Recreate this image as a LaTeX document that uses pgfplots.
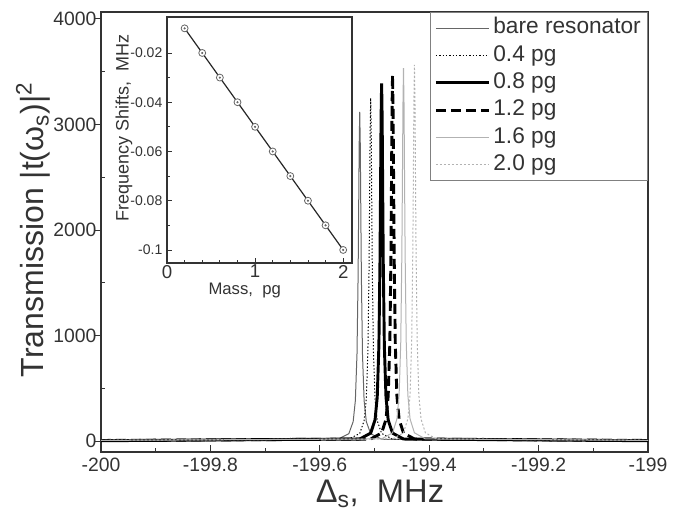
\documentclass[border=0pt]{standalone}
\usepackage{fontspec}
\setmainfont{Liberation Sans}
\usepackage{pgfplots}
\pgfplotsset{compat=1.18}
\definecolor{axgray}{gray}{0.2}
\definecolor{bare}{gray}{0.4}
\definecolor{light}{gray}{0.7}

\begin{document}
\begin{tikzpicture}
\useasboundingbox (-75.75pt,-46.5pt) rectangle (429pt,339pt);
\begin{axis}[
  name=main,
  at={(0pt,0pt)}, anchor=south west,
  scale only axis,
  width=410.25pt, height=330pt,
  xmin=-200, xmax=-199,
  ymin=-104, ymax=4066,
  xtick={-200,-199.8,-199.6,-199.4,-199.2,-199},
  xticklabels={-200,-199.8,-199.6,-199.4,-199.2,-199},
  ytick={0,1000,2000,3000,4000},
  minor x tick num=1,
  minor y tick num=1,
  xtick pos=bottom, ytick pos=left,
  tick align=inside,
  major tick length=5pt, minor tick length=3pt,
  major y tick style={xshift=-5pt},
  axis line style={axgray, line width=0.9pt},
  every tick/.style={axgray, line width=0.7pt},
  /pgf/number format/assume math mode=true,
  /pgf/number format/set thousands separator={},
  tick label style={font=\fontsize{14.5}{15}\selectfont, color=axgray},
  x tick label style={yshift=-1pt},
  xlabel={Δ\textsubscript{s},\ \ MHz},
  ylabel={Transmission |t(ω\textsubscript{s})|\textsuperscript{2}},
  xlabel style={font=\fontsize{24.5}{26}\selectfont, color=axgray, at={(axis description cs:0.51,-0.096)}, anchor=center},
  ylabel style={font=\fontsize{24}{26}\selectfont, color=axgray, at={(axis description cs:-0.124,0.505)}, anchor=center},
  legend cell align=left,
  legend image code/.code={\draw[#1] (0pt,0pt) -- (40pt,0pt);},
  legend style={at={(1,1)}, anchor=north east, draw=gray, line width=0.8pt,
    font=\fontsize{17}{20}\selectfont, text=axgray,
    nodes={inner ysep=2pt, text height=12pt, text depth=3.5pt},
    row sep=1pt},
]
% bare resonator
\addplot[bare, line width=0.75pt] coordinates {
  (-200,2) (-199.567,17) (-199.547,69) (-199.539,184) (-199.535,384) (-199.532,827)
  (-199.530,1560) (-199.529,2159) (-199.528,2808) (-199.527,3120) (-199.526,2808)
  (-199.525,2159) (-199.524,1560) (-199.522,827) (-199.519,384) (-199.515,184)
  (-199.507,69) (-199.487,17) (-199,2)
};
\addlegendentry{bare resonator}
% 0.4 pg
\addplot[black, line width=0.75pt, dash pattern=on 1pt off 1.5pt] coordinates {
  (-200,4) (-199.547,18) (-199.527,72) (-199.519,192) (-199.515,400) (-199.512,861)
  (-199.510,1625) (-199.509,2249) (-199.508,2925) (-199.507,3250) (-199.506,2925)
  (-199.505,2249) (-199.504,1625) (-199.502,861) (-199.499,400) (-199.495,192)
  (-199.487,72) (-199.467,18) (-199,4)
};
\addlegendentry{0.4 pg}
% 0.8 pg
\addplot[black, line width=2.2pt] coordinates {
  (-200,3) (-199.527,19) (-199.507,75) (-199.499,200) (-199.495,417) (-199.492,898)
  (-199.490,1695) (-199.489,2346) (-199.488,3051) (-199.487,3390) (-199.486,3051)
  (-199.485,2346) (-199.484,1695) (-199.482,898) (-199.479,417) (-199.475,200)
  (-199.467,75) (-199.447,19) (-199,3)
};
\addlegendentry{0.8 pg}
% 1.2 pg
\addplot[black, line width=2.2pt, dash pattern=on 7.5pt off 3.75pt] coordinates {
  (-200,5) (-199.507,19) (-199.487,76) (-199.479,205) (-199.475,427) (-199.472,920)
  (-199.470,1735) (-199.469,2401) (-199.468,3123) (-199.467,3470) (-199.466,3123)
  (-199.465,2401) (-199.464,1735) (-199.462,920) (-199.459,427) (-199.455,205)
  (-199.447,76) (-199.427,19) (-199,5)
};
\addlegendentry{1.2 pg}
% 1.6 pg
\addplot[light, line width=0.75pt] coordinates {
  (-200,6) (-199.487,20) (-199.467,78) (-199.459,209) (-199.455,435) (-199.452,937)
  (-199.450,1768) (-199.449,2446) (-199.448,3182) (-199.447,3535) (-199.446,3182)
  (-199.445,2446) (-199.444,1768) (-199.442,937) (-199.439,435) (-199.435,209)
  (-199.427,78) (-199.407,20) (-199,6)
};
\addlegendentry{1.6 pg}
% 2.0 pg
\addplot[light, line width=0.75pt, dash pattern=on 1.5pt off 1.5pt] coordinates {
  (-200,7) (-199.467,20) (-199.447,78) (-199.439,210) (-199.435,438) (-199.432,945)
  (-199.430,1783) (-199.429,2467) (-199.428,3209) (-199.427,3565) (-199.426,3209)
  (-199.425,2467) (-199.424,1783) (-199.422,945) (-199.419,438) (-199.415,210)
  (-199.407,78) (-199.387,20) (-199,7)
};
\addlegendentry{2.0 pg}
\end{axis}

% inset: frequency shift vs mass
\begin{axis}[
  at={(49.5pt,141.75pt)}, anchor=south west,
  scale only axis,
  width=138.75pt, height=184.5pt,
  axis background/.style={fill=white},
  xmin=0, xmax=2.1,
  ymin=-0.1053, ymax=-0.0054,
  xtick={0,1,2},
  ytick={-0.1,-0.08,-0.06,-0.04,-0.02},
  yticklabels={-0.1,-0.08,-0.06,-0.04,-0.02},
  minor x tick num=4,
  minor y tick num=1,
  xtick pos=bottom, ytick pos=left,
  tick align=inside,
  major tick length=4pt, minor tick length=2.5pt,
  axis line style={axgray, line width=0.9pt},
  every tick/.style={axgray, line width=0.6pt},
  /pgf/number format/assume math mode=true,
  x tick label style={font=\fontsize{14}{14}\selectfont, color=axgray, yshift=2pt},
  y tick label style={font=\fontsize{10.5}{11}\selectfont, color=axgray},
  xlabel={Mass,\ \ pg},
  ylabel={Frequency Shifts,\ \ MHz},
  xlabel style={font=\fontsize{12.5}{13}\selectfont, color=axgray, at={(axis description cs:0.42,-0.112)}, anchor=center},
  ylabel style={font=\fontsize{13.5}{14}\selectfont, color=axgray, at={(axis description cs:-0.232,0.55)}, anchor=center},
]
\addplot[black!85, line width=0.9pt, mark=*, mark size=2.6pt,
  mark options={fill=white, draw=gray!80!black, line width=0.6pt}] coordinates {
  (0.2,-0.01) (0.4,-0.02) (0.6,-0.03) (0.8,-0.04) (1.0,-0.05)
  (1.2,-0.06) (1.4,-0.07) (1.6,-0.08) (1.8,-0.09) (2.0,-0.1)
};
\addplot[only marks, mark=*, mark size=0.6pt, gray!80!black] coordinates {
  (0.2,-0.01) (0.4,-0.02) (0.6,-0.03) (0.8,-0.04) (1.0,-0.05)
  (1.2,-0.06) (1.4,-0.07) (1.6,-0.08) (1.8,-0.09) (2.0,-0.1)
};
\end{axis}
\end{tikzpicture}
\end{document}
